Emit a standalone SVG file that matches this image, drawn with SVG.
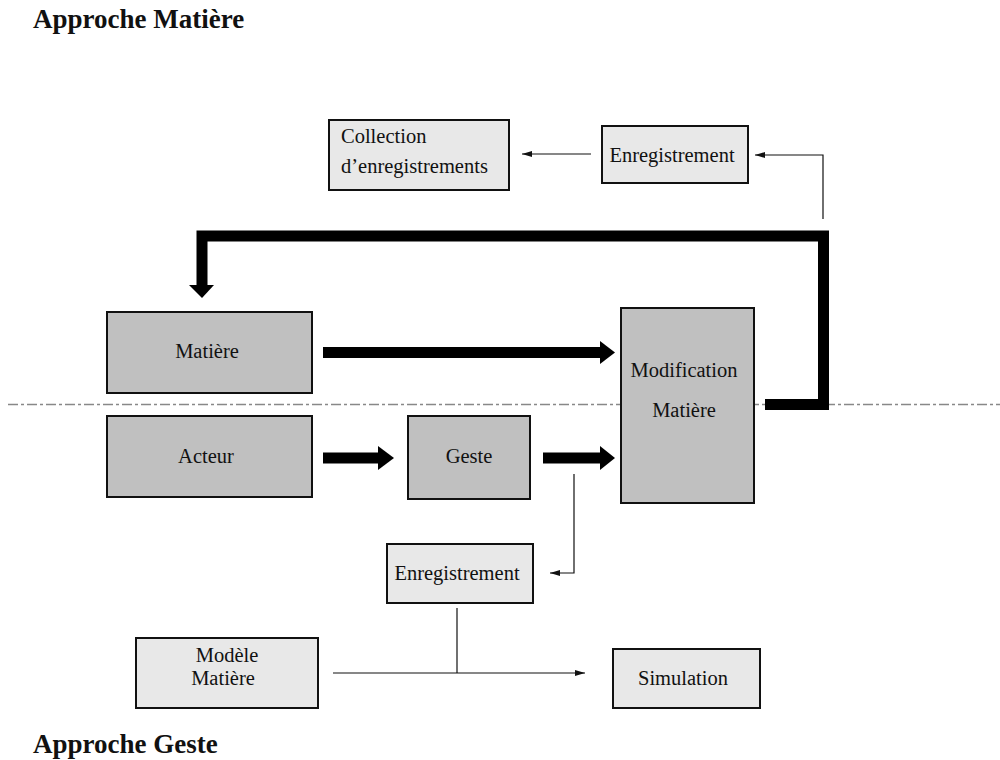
<svg xmlns="http://www.w3.org/2000/svg" width="1000" height="760" viewBox="0 0 1000 760">
  <style>
    text { font-family: "Liberation Serif", "Times New Roman", serif; fill: #111; }
    .title { font-size: 27px; font-weight: bold; }
    .lbl { font-size: 20.5px; }
    .dark { fill: #c0c0c0; stroke: #111; stroke-width: 2; }
    .light { fill: #e8e8e8; stroke: #111; stroke-width: 2; }
    .thin { fill: none; stroke: #111; stroke-width: 1.2; }
    .thick { fill: none; stroke: #000; stroke-width: 11; stroke-linejoin: miter; stroke-linecap: butt; }
    .head { fill: #000; }
    .axis { fill: none; stroke: #888; stroke-width: 1.3; stroke-dasharray: 10 3 3 3; }
  </style>
  <defs>
    <marker id="tip" viewBox="0 0 10 6" refX="10" refY="3" markerWidth="10" markerHeight="6" markerUnits="userSpaceOnUse" orient="auto">
      <path d="M0,0 L10,3 L0,6 Z" fill="#111"/>
    </marker>
  </defs>

  <rect width="1000" height="760" fill="#fff"/>

  <!-- section titles -->
  <text class="title" x="33" y="28" font-family="Liberation Serif, serif">Approche Matière</text>
  <text class="title" x="33" y="753" font-family="Liberation Serif, serif">Approche Geste</text>

  <!-- dash-dot separator between the two approaches -->
  <line class="axis" x1="8" y1="404.5" x2="1000" y2="404.5"/>

  <!-- connectors -->
  <g id="connectors">
    <!-- thick feedback loop: Modification Matière back to Matière -->
    <path class="thick" d="M765,404.5 H823.5 V236 H202 V286"/>
    <polygon class="head" points="189,285 214,285 202,298"/>
    <!-- Matière -> Modification Matière -->
    <path class="thick" d="M323,352.5 H601"/>
    <polygon class="head" points="600,341 615,352.5 600,364"/>
    <!-- Acteur -> Geste -->
    <path class="thick" d="M323,458 H379"/>
    <polygon class="head" points="378,446 394,458 378,470"/>
    <!-- Geste -> Modification Matière -->
    <path class="thick" d="M543,458 H601"/>
    <polygon class="head" points="600,446 615,458 600,470"/>
    <!-- thin recording links -->
    <path class="thin" d="M823,219 V155 H755" marker-end="url(#tip)"/>
    <path class="thin" d="M591,154 H522" marker-end="url(#tip)"/>
    <path class="thin" d="M574,474 V573 H550" marker-end="url(#tip)"/>
    <path class="thin" d="M457,608 V673"/>
    <path class="thin" d="M333,673 H585" marker-end="url(#tip)"/>
  </g>

  <g id="collection" font-family="Liberation Serif, serif">
    <rect class="light" x="329" y="120" width="180" height="70"/>
    <text class="lbl" x="341" y="143">Collection</text>
    <text class="lbl" x="341" y="173">d’enregistrements</text>
  </g>

  <g id="enregistrement-haut">
    <rect class="light" x="602" y="126" width="146" height="57"/>
    <text class="lbl" x="672" y="162" text-anchor="middle">Enregistrement</text>
  </g>

  <g id="matiere">
    <rect class="dark" x="107" y="312" width="205" height="81"/>
    <text class="lbl" x="207" y="358" text-anchor="middle">Matière</text>
  </g>

  <g id="modification">
    <rect class="dark" x="621" y="308" width="133" height="195"/>
    <text class="lbl" x="684" y="377" text-anchor="middle">Modification</text>
    <text class="lbl" x="684" y="417" text-anchor="middle">Matière</text>
  </g>

  <g id="acteur">
    <rect class="dark" x="107" y="416" width="205" height="81"/>
    <text class="lbl" x="206" y="463" text-anchor="middle">Acteur</text>
  </g>

  <g id="geste">
    <rect class="dark" x="408" y="416" width="122" height="83"/>
    <text class="lbl" x="469" y="463" text-anchor="middle">Geste</text>
  </g>

  <g id="enregistrement-bas">
    <rect class="light" x="387" y="544" width="146" height="59"/>
    <text class="lbl" x="457" y="580" text-anchor="middle">Enregistrement</text>
  </g>

  <g id="modele">
    <rect class="light" x="136" y="638" width="182" height="70"/>
    <text class="lbl" x="227" y="662" text-anchor="middle">Modèle</text>
    <text class="lbl" x="223" y="685" text-anchor="middle">Matière</text>
  </g>

  <g id="simulation">
    <rect class="light" x="613" y="649" width="147" height="59"/>
    <text class="lbl" x="683" y="685" text-anchor="middle">Simulation</text>
  </g>
</svg>
